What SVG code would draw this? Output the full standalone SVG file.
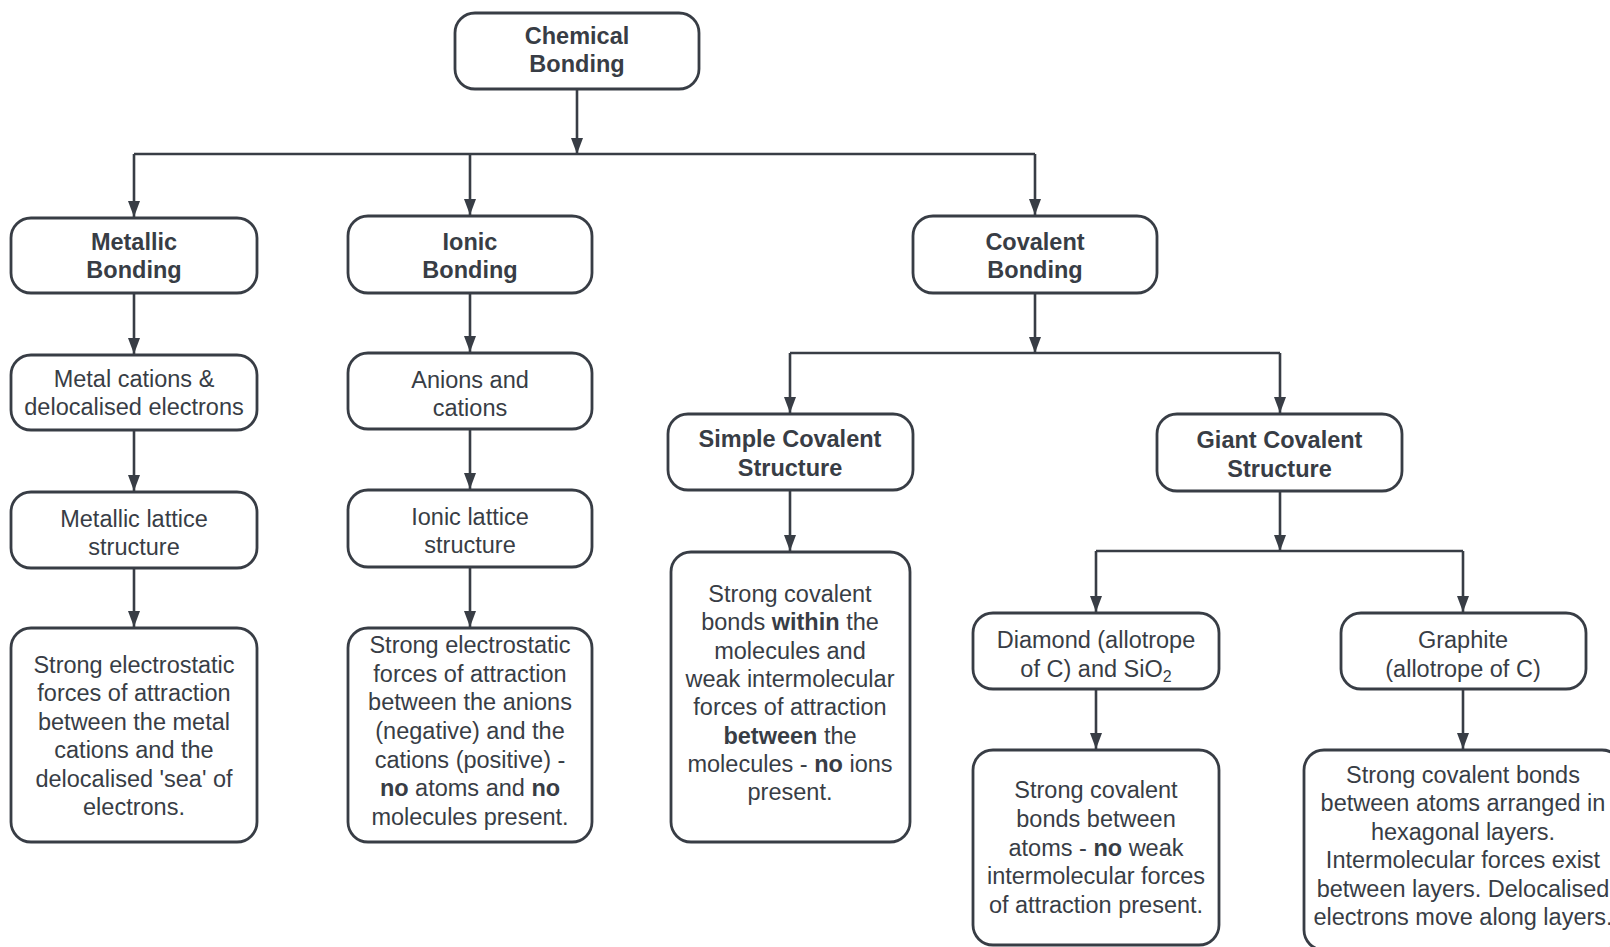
<svg xmlns="http://www.w3.org/2000/svg" width="1610" height="947" viewBox="0 0 1610 947">
<defs>
<style>
.box{fill:#ffffff;stroke:#383d45;stroke-width:2.8}
.t{font-family:"Liberation Sans",Arial,sans-serif;font-size:23.5px;fill:#383d45;text-anchor:middle}
.b{font-weight:bold}
.c{fill:none;stroke:#383d45;stroke-width:2.6}
</style>
<marker id="ah" markerUnits="userSpaceOnUse" markerWidth="16" markerHeight="12" refX="16" refY="6" orient="auto">
<path d="M0,0 L16,6 L0,12 z" fill="#383d45"/>
</marker>
</defs>
<rect width="1610" height="947" fill="#ffffff"/>
<g id="connectors">
<path class="c" d="M134 154 H1035"/>
<path class="c" d="M790 353 H1280"/>
<path class="c" d="M1096 551 H1463"/>
<path class="c" marker-end="url(#ah)" d="M577 89 V154"/>
<path class="c" marker-end="url(#ah)" d="M134 154 V217"/>
<path class="c" marker-end="url(#ah)" d="M470 154 V215"/>
<path class="c" marker-end="url(#ah)" d="M1035 154 V215"/>
<path class="c" marker-end="url(#ah)" d="M134 293 V354"/>
<path class="c" marker-end="url(#ah)" d="M470 293 V352"/>
<path class="c" marker-end="url(#ah)" d="M1035 293 V353"/>
<path class="c" marker-end="url(#ah)" d="M790 353 V413"/>
<path class="c" marker-end="url(#ah)" d="M1280 353 V413"/>
<path class="c" marker-end="url(#ah)" d="M134 430 V491"/>
<path class="c" marker-end="url(#ah)" d="M470 429 V489"/>
<path class="c" marker-end="url(#ah)" d="M134 568 V627"/>
<path class="c" marker-end="url(#ah)" d="M470 567 V627"/>
<path class="c" marker-end="url(#ah)" d="M790 490 V551"/>
<path class="c" marker-end="url(#ah)" d="M1280 491 V551"/>
<path class="c" marker-end="url(#ah)" d="M1096 551 V612"/>
<path class="c" marker-end="url(#ah)" d="M1463 551 V612"/>
<path class="c" marker-end="url(#ah)" d="M1096 689 V749"/>
<path class="c" marker-end="url(#ah)" d="M1463 689 V749"/>
</g>
<g id="chemical-bonding">
<rect class="box" x="455" y="13" width="244" height="76" rx="20"/>
<text class="t b" x="577" y="43.5">Chemical</text>
<text class="t b" x="577" y="72">Bonding</text>
</g>
<g id="metallic-bonding">
<rect class="box" x="11" y="218" width="246" height="75" rx="20"/>
<text class="t b" x="134" y="250">Metallic</text>
<text class="t b" x="134" y="278">Bonding</text>
</g>
<g id="ionic-bonding">
<rect class="box" x="348" y="216" width="244" height="77" rx="20"/>
<text class="t b" x="470" y="250">Ionic</text>
<text class="t b" x="470" y="278">Bonding</text>
</g>
<g id="covalent-bonding">
<rect class="box" x="913" y="216" width="244" height="77" rx="20"/>
<text class="t b" x="1035" y="249.5">Covalent</text>
<text class="t b" x="1035" y="278">Bonding</text>
</g>
<g id="metal-cations">
<rect class="box" x="11" y="355" width="246" height="75" rx="20"/>
<text class="t" x="134" y="387">Metal cations &amp;</text>
<text class="t" x="134" y="415">delocalised electrons</text>
</g>
<g id="anions-cations">
<rect class="box" x="348" y="353" width="244" height="76" rx="20"/>
<text class="t" x="470" y="388">Anions and</text>
<text class="t" x="470" y="416">cations</text>
</g>
<g id="metallic-lattice">
<rect class="box" x="11" y="492" width="246" height="76" rx="20"/>
<text class="t" x="134" y="527">Metallic lattice</text>
<text class="t" x="134" y="555">structure</text>
</g>
<g id="ionic-lattice">
<rect class="box" x="348" y="490" width="244" height="77" rx="20"/>
<text class="t" x="470" y="525">Ionic lattice</text>
<text class="t" x="470" y="553">structure</text>
</g>
<g id="metallic-description">
<rect class="box" x="11" y="628" width="246" height="214" rx="20"/>
<text class="t" x="134" y="673">Strong electrostatic</text>
<text class="t" x="134" y="701.4">forces of attraction</text>
<text class="t" x="134" y="729.8">between the metal</text>
<text class="t" x="134" y="758.2">cations and the</text>
<text class="t" x="134" y="786.6">delocalised 'sea' of</text>
<text class="t" x="134" y="815">electrons.</text>
</g>
<g id="ionic-description">
<rect class="box" x="348" y="628" width="244" height="214" rx="20"/>
<text class="t" x="470" y="653">Strong electrostatic</text>
<text class="t" x="470" y="681.7">forces of attraction</text>
<text class="t" x="470" y="710.3">between the anions</text>
<text class="t" x="470" y="739">(negative) and the</text>
<text class="t" x="470" y="767.7">cations (positive) -</text>
<text class="t" x="470" y="796.3"><tspan class="b">no</tspan> atoms and <tspan class="b">no</tspan></text>
<text class="t" x="470" y="825">molecules present.</text>
</g>
<g id="simple-covalent">
<rect class="box" x="668" y="414" width="245" height="76" rx="20"/>
<text class="t b" x="790" y="446.5">Simple Covalent</text>
<text class="t b" x="790" y="476">Structure</text>
</g>
<g id="giant-covalent">
<rect class="box" x="1157" y="414" width="245" height="77" rx="20"/>
<text class="t b" x="1279.5" y="448">Giant Covalent</text>
<text class="t b" x="1279.5" y="477">Structure</text>
</g>
<g id="simple-description">
<rect class="box" x="671" y="552" width="239" height="290" rx="20"/>
<text class="t" x="790" y="602">Strong covalent</text>
<text class="t" x="790" y="630.3">bonds <tspan class="b">within</tspan> the</text>
<text class="t" x="790" y="658.6">molecules and</text>
<text class="t" x="790" y="686.9">weak intermolecular</text>
<text class="t" x="790" y="715.2">forces of attraction</text>
<text class="t" x="790" y="743.5"><tspan class="b">between</tspan> the</text>
<text class="t" x="790" y="771.8">molecules - <tspan class="b">no</tspan> ions</text>
<text class="t" x="790" y="800">present.</text>
</g>
<g id="diamond">
<rect class="box" x="973" y="613" width="246" height="76" rx="20"/>
<text class="t" x="1096" y="648">Diamond (allotrope</text>
<text class="t" x="1096" y="677">of C) and SiO<tspan font-size="16" dy="5">2</tspan></text>
</g>
<g id="graphite">
<rect class="box" x="1341" y="613" width="245" height="76" rx="20"/>
<text class="t" x="1463" y="648">Graphite</text>
<text class="t" x="1463" y="677">(allotrope of C)</text>
</g>
<g id="diamond-description">
<rect class="box" x="973" y="750" width="246" height="195" rx="20"/>
<text class="t" x="1096" y="798">Strong covalent</text>
<text class="t" x="1096" y="826.75">bonds between</text>
<text class="t" x="1096" y="855.5">atoms - <tspan class="b">no</tspan> weak</text>
<text class="t" x="1096" y="884.25">intermolecular forces</text>
<text class="t" x="1096" y="913">of attraction present.</text>
</g>
<g id="graphite-description">
<rect class="box" x="1304" y="750" width="318" height="200" rx="20"/>
<text class="t" x="1463" y="783">Strong covalent bonds</text>
<text class="t" x="1463" y="811.4">between atoms arranged in</text>
<text class="t" x="1463" y="839.8">hexagonal layers.</text>
<text class="t" x="1463" y="868.2">Intermolecular forces exist</text>
<text class="t" x="1463" y="896.6">between layers. Delocalised</text>
<text class="t" x="1463" y="925">electrons move along layers.</text>
</g>
</svg>
